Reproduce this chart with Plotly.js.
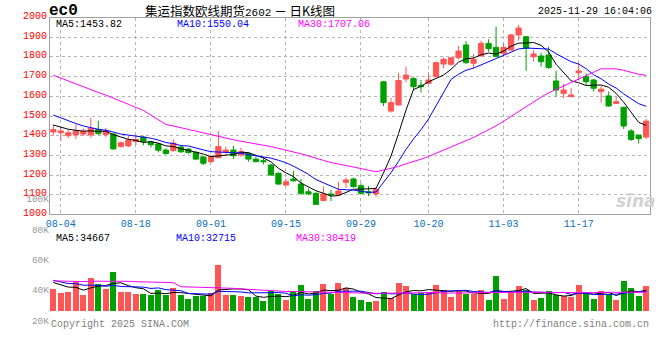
<!DOCTYPE html>
<html>
<head>
<meta charset="utf-8">
<script src="https://cdn.plot.ly/plotly-3.0.1.min.js"></script>
<style>html,body{margin:0;padding:0;background:#fff;}#chart{width:660px;height:360px;}</style>
</head>
<body>
<div id="chart"></div>
<script>
// ---- data (EC2602, daily) ----
const dates = [
 '2025-08-01','2025-08-04','2025-08-05','2025-08-06','2025-08-07','2025-08-08','2025-08-11','2025-08-12','2025-08-13','2025-08-14',
 '2025-08-15','2025-08-18','2025-08-19','2025-08-20','2025-08-21','2025-08-22','2025-08-25','2025-08-26','2025-08-27','2025-08-28',
 '2025-08-29','2025-09-01','2025-09-02','2025-09-03','2025-09-04','2025-09-05','2025-09-08','2025-09-09','2025-09-10','2025-09-11',
 '2025-09-12','2025-09-15','2025-09-16','2025-09-17','2025-09-18','2025-09-19','2025-09-22','2025-09-23','2025-09-24','2025-09-25',
 '2025-09-26','2025-09-29','2025-09-30','2025-10-09','2025-10-10','2025-10-13','2025-10-14','2025-10-15','2025-10-16','2025-10-17',
 '2025-10-20','2025-10-21','2025-10-22','2025-10-23','2025-10-24','2025-10-27','2025-10-28','2025-10-29','2025-10-30','2025-10-31',
 '2025-11-03','2025-11-04','2025-11-05','2025-11-06','2025-11-07','2025-11-10','2025-11-11','2025-11-12','2025-11-13','2025-11-14',
 '2025-11-17','2025-11-18','2025-11-19','2025-11-20','2025-11-21','2025-11-24','2025-11-25','2025-11-26','2025-11-27','2025-11-28'
];
const open = [1419,1415,1400,1404,1408,1404,1432,1405,1408,1345, 1348,1370,1393,1369,1358,1327,1324,1342,1332,1315,
 1292,1268,1288,1317,1327,1302,1310,1281,1273,1251, 1209,1149,1180,1154,1115,1107,1070,1104,1099,1163,
 1180,1146,1115,1104,1674,1525,1556,1688,1691,1656, 1666,1700,1764,1763,1796,1861,1768,1805,1869,1849,
 1818,1835,1912,1903,1801,1805,1810,1678,1615,1598, 1720,1700,1683,1624,1602,1564,1544,1424,1403,1393];
const high = [1458,1442,1432,1458,1437,1491,1476,1440,1412,1370, 1400,1403,1400,1375,1364,1336,1381,1350,1338,1322,
 1297,1305,1424,1344,1349,1339,1315,1293,1290,1256, 1213,1183,1220,1180,1132,1112,1141,1124,1166,1187,
 1187,1158,1144,1137,1676,1592,1717,1751,1697,1683, 1713,1776,1798,1798,1856,1881,1815,1883,1890,1954,
 1869,1917,1963,1905,1835,1822,1852,1729,1663,1641, 1771,1717,1688,1652,1624,1598,1547,1434,1405,1486];
const low = [1400,1375,1387,1383,1398,1390,1404,1392,1327,1339, 1341,1353,1351,1339,1315,1304,1319,1314,1308,1276,
 1251,1263,1285,1302,1281,1293,1268,1265,1254,1197, 1151,1146,1166,1099,1099,1048,1068,1068,1094,1136,
 1136,1103,1093,1090,1551,1517,1554,1671,1632,1619, 1663,1697,1742,1754,1788,1764,1742,1802,1827,1802,
 1802,1832,1883,1730,1776,1751,1739,1598,1590,1598, 1683,1658,1624,1568,1547,1561,1434,1373,1361,1383];
const close = [1431,1424,1415,1424,1422,1437,1410,1423,1333,1364, 1378,1381,1371,1354,1326,1309,1362,1318,1314,1281,
 1260,1293,1344,1327,1298,1319,1281,1268,1268,1200, 1154,1166,1171,1107,1104,1051,1104,1100,1119,1175,
 1141,1107,1110,1127,1568,1568,1680,1708,1649,1649, 1683,1771,1788,1796,1830,1771,1788,1869,1842,1802,
 1849,1912,1947,1844,1815,1776,1746,1632,1632,1607, 1729,1674,1641,1636,1551,1573,1449,1381,1385,1474];
const volume = [40700,38000,38700,45400,36600,48100,44000,40700,52100,38700, 38700,37300,37300,36600,40000,36600,41300,36600,33900,36000,
 36000,38000,56200,36600,36600,36000,35300,35300,32600,39300, 37300,33300,39300,43400,33900,39300,44000,37100,44900,41500,
 35500,33300,31900,32800,38700,34800,44900,42700,37100,37800, 38700,43400,40000,35500,40200,37300,37300,40200,33300,49400,
 34100,38700,42700,39800,33300,34800,39300,36600,36000,35100, 43400,37800,33900,39300,37500,33300,46100,41300,36000,42700];
// 29 sessions before 08-01, estimated from where the moving-average lines start
const priorCloses = [1880,1875,1865,1865,1850,1830,1810,1800,1810,1795,1880,1900,2050,2100,1961,
 1600,1580,1570,1575,1572,1580,1560,1555,1545,1540,1480,1465,1450,1444];
const priorVolumes = [44000,41000,43000,45000,40000,42000,46000,44000,41000,43000,45000,40000,42000,44000,43000,42000,
 117000,38000,37000,39000,48000,50000,46000,47000,48000,45000,47000,46000,46000];
const tickDates = ['2025-08-04','2025-08-18','2025-09-01','2025-09-15','2025-09-29','2025-10-20','2025-11-03','2025-11-17'];
const priceTicks = [1000,1100,1200,1300,1400,1500,1600,1700,1800,1900,2000];
const volTicks = [20000,40000,60000,80000,100000];

// ---- styling ----
const RED = '#ff5555', GREEN = '#00a000';
const C5 = '#000000', C10 = '#0000ff', C30 = '#ff00ff';
const MONO = 'Liberation Mono, DejaVu Sans Mono, monospace';
const GRID = '#b4b4b4', FRAME = '#a0a0a0';
const VOL_BASE = 26000;
const W = 660, H = 360;
const fx = x => x / W, fy = y => 1 - y / H;

function movingAverage(prior, values, n) {
  const all = prior.concat(values), off = prior.length;
  return values.map((v, i) => {
    const end = off + i, start = end - n + 1;
    if (start < 0) return null;
    let s = 0; for (let k = start; k <= end; k++) s += all[k];
    return s / n;
  });
}

const idx = dates.map((d, i) => i);
const tickvals = tickDates.map(d => dates.indexOf(d));
const ticktext = tickDates.map(d => d.slice(5));
const xr = [-0.44, 79.51];
const up = close.map((c, i) => c >= open[i]);

const traces = [
  {type:'candlestick', x: idx, open, high, low, close, xaxis:'x', yaxis:'y',
   increasing:{line:{color:RED,width:1}, fillcolor:RED},
   decreasing:{line:{color:GREEN,width:1}, fillcolor:GREEN},
   whiskerwidth:0, hoverinfo:'skip', showlegend:false},
  {type:'scatter', mode:'lines', x: idx, y: movingAverage(priorCloses, close, 5), line:{color:C5,width:1}, xaxis:'x', yaxis:'y', hoverinfo:'skip'},
  {type:'scatter', mode:'lines', x: idx, y: movingAverage(priorCloses, close, 10), line:{color:C10,width:1}, xaxis:'x', yaxis:'y', hoverinfo:'skip'},
  {type:'scatter', mode:'lines', x: idx, y: movingAverage(priorCloses, close, 30), line:{color:C30,width:1}, xaxis:'x', yaxis:'y', hoverinfo:'skip'},
  {type:'bar', x: idx, y: volume.map(v => v - VOL_BASE), base: VOL_BASE, width: 0.8,
   marker:{color: up.map(u => u ? RED : GREEN), line:{width:0}}, xaxis:'x3', yaxis:'y3', hoverinfo:'skip'},
  {type:'scatter', mode:'lines', x: idx, y: movingAverage(priorVolumes, volume, 5), line:{color:C5,width:1}, xaxis:'x3', yaxis:'y3', hoverinfo:'skip'},
  {type:'scatter', mode:'lines', x: idx, y: movingAverage(priorVolumes, volume, 10), line:{color:C10,width:1}, xaxis:'x3', yaxis:'y3', hoverinfo:'skip'},
  {type:'scatter', mode:'lines', x: idx, y: movingAverage(priorVolumes, volume, 30), line:{color:C30,width:1}, xaxis:'x3', yaxis:'y3', hoverinfo:'skip'}
];

const gridAxis = {showgrid:true, griddash:'dot', gridcolor:GRID, gridwidth:1, zeroline:false, ticks:'', fixedrange:true};

function ann(text, x, y, color, anchor, size, family) {
  return {text, x: fx(x), y: fy(y), xref:'paper', yref:'paper', showarrow:false,
    xanchor: anchor || 'left', yanchor:'middle', borderpad:0,
    font:{family: family || MONO, size: size || 10, color: color || '#000'}};
}

const layout = {
  width: W, height: H, margin:{l:0,r:0,t:0,b:0}, paper_bgcolor:'#ffffff', plot_bgcolor:'rgba(0,0,0,0)',
  showlegend:false, hovermode:false, boxgap:0.3, boxgroupgap:0, bargap:0,
  xaxis: Object.assign({}, gridAxis, {domain:[fx(50), fx(650)], range: xr, anchor:'y',
    tickmode:'array', tickvals, ticktext, showline:true, mirror:true, linecolor:FRAME, linewidth:1,
    tickfont:{family:MONO, size:10, color:'#0a70c0'}, rangeslider:{visible:false}}),
  yaxis: Object.assign({}, gridAxis, {domain:[fy(214.4), fy(17.6)], range:[1000,2000], anchor:'x',
    tickmode:'array', tickvals: priceTicks, showline:true, mirror:true, linecolor:FRAME, linewidth:1,
    ticklabelshift: -2, tickfont:{family:MONO, size:10, color:'#ff0000'}}),
  xaxis2: Object.assign({}, gridAxis, {domain:[fx(50), fx(650)], range: xr, anchor:'y2',
    tickmode:'array', tickvals, showticklabels:false, showline:true, mirror:true, linecolor:FRAME, linewidth:1}),
  yaxis2: Object.assign({}, gridAxis, {domain:[fy(317.7), fy(234.3)], range:[0,4], anchor:'x2',
    tickmode:'array', tickvals:[1,2,3], showticklabels:false, showline:true, mirror:true, linecolor:FRAME, linewidth:1}),
  xaxis3: {domain:[fx(50), fx(650)], range: xr, anchor:'y3', showgrid:false, zeroline:false,
    showline:false, showticklabels:false, ticks:'', fixedrange:true},
  yaxis3: {domain:[fy(320.3), fy(199)], range:[20000,100000], anchor:'x3', showgrid:false, zeroline:false,
    showline:false, ticks:'', tickmode:'array', tickvals: volTicks, ticktext: volTicks.map(v => (v/1000) + 'K'),
    tickfont:{family:MONO, size:9.5, color:'#999999'}, fixedrange:true},
  annotations: [
    ann('<b>ec0</b>', 48, 10.5, '#000', 'left', 16),
    ann('集运指数欧线期货<span style="font-family:Liberation Mono;font-size:11px">2602</span> － 日K线图', 240, 10, '#000', 'center', 12.5, 'Noto Sans CJK SC'),
    ann('2025-11-29 16:04:06', 653, 11.5, '#000', 'right', 10),
    ann('MA5:1453.82', 55, 25, C5),
    ann('MA10:1550.04', 176, 25, C10),
    ann('MA30:1707.06', 297, 25, C30),
    ann('MA5:34667', 55, 238, C5),
    ann('MA10:32715', 175, 238, C10),
    ann('MA30:30419', 295, 238, C30),
    ann('Copyright 2025 SINA.COM', 50, 324, '#808080'),
    ann('http://finance.sina.com.cn', 650, 324, '#808080', 'right'),
    ann('<b><i>sina</i></b>', 636, 201, '#d2d2d2', 'center', 17, 'DejaVu Sans')
  ]
};

Plotly.newPlot('chart', traces, layout, {staticPlot:true, displayModeBar:false});
</script>
</body>
</html>
